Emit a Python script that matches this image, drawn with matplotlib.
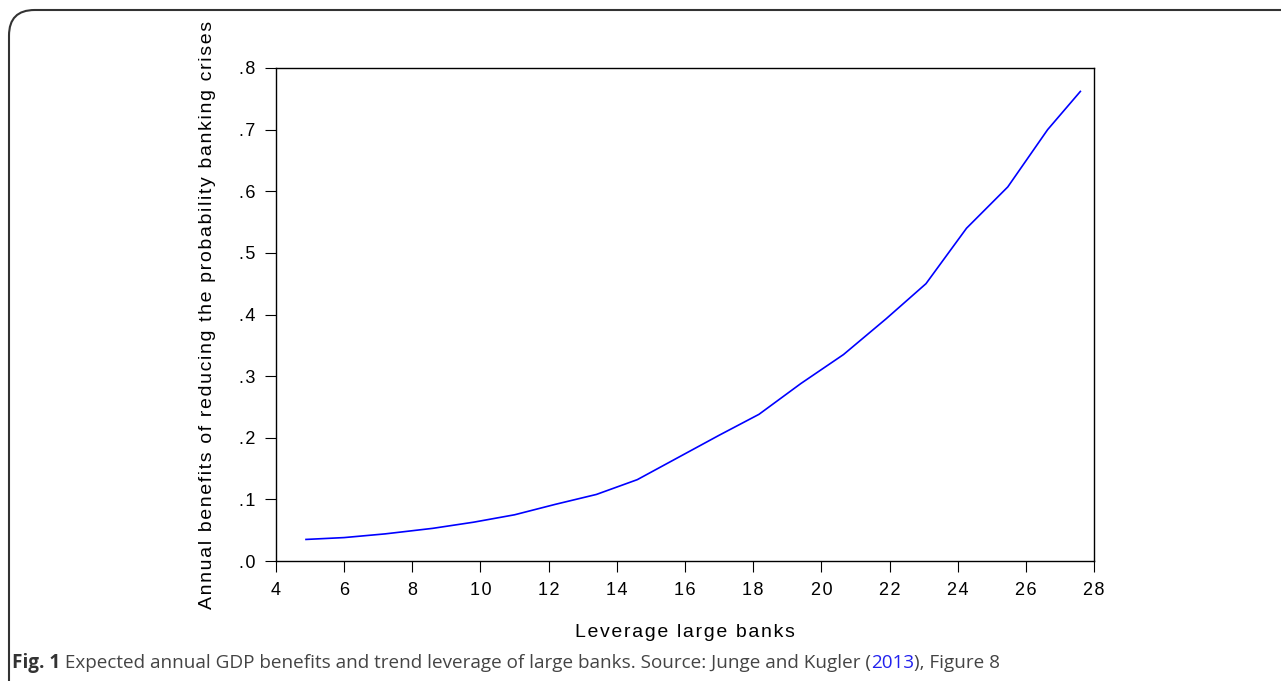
import matplotlib
matplotlib.use("Agg")
import matplotlib.pyplot as plt
from matplotlib.patches import FancyBboxPatch

# values
leverage = [4.88, 6.0, 7.2, 8.6, 9.8, 11.0, 12.2, 13.4, 14.6, 15.8, 17.0, 18.17,
            19.4, 20.65, 21.9, 23.07, 24.26, 25.47, 26.64, 27.6]
benefits = [0.035, 0.038, 0.044, 0.053, 0.063, 0.075, 0.092, 0.108, 0.132, 0.168,
            0.204, 0.238, 0.288, 0.335, 0.393, 0.450, 0.540, 0.607, 0.700, 0.762]
xticks = [4, 6, 8, 10, 12, 14, 16, 18, 20, 22, 24, 26, 28]
yticks = [0.0, 0.1, 0.2, 0.3, 0.4, 0.5, 0.6, 0.7, 0.8]
ytick_labels = [".0", ".1", ".2", ".3", ".4", ".5", ".6", ".7", ".8"]
ylabel = "Annual benefits of reducing the probability banking crises"
xlabel = "Leverage large banks"
caption_bold = "Fig. 1"
caption_text = " Expected annual GDP benefits and trend leverage of large banks. Source: Junge and Kugler ("
caption_link = "2013"
caption_end = "), Figure 8"

def spaced(s, sep="\u200a"):
    return sep.join(s)

plt.rcParams['font.family'] = ['Liberation Sans', 'DejaVu Sans']

fig = plt.figure(figsize=(12.81, 6.81), dpi=100)
W, H = 1281, 681
ax = fig.add_axes([276 / W, 1 - 561 / H, (1094 - 276) / W, (561 - 68) / H])

ax.plot(leverage, benefits, color="#0000ff", lw=1.2)
ax.set_xlim(4, 28)
ax.set_ylim(0, 0.8)
ax.set_xticks(xticks)
ax.set_xticklabels([spaced(str(t)) for t in xticks])
ax.set_yticks(yticks)
ax.set_yticklabels([spaced(t) for t in ytick_labels])
ax.tick_params(direction="out", length=8, width=0.8, labelsize=13,
               colors="black")
ax.tick_params(axis="x", pad=7)
ax.tick_params(axis="y", pad=7)
for s in ax.spines.values():
    s.set_linewidth(1.0)

ax.set_ylabel(spaced(ylabel), fontsize=14)
ax.yaxis.set_label_coords(-0.073, 0.5)
ax.set_xlabel(spaced(xlabel), fontsize=14)
ax.xaxis.set_label_coords(0.5, -0.128)

# rounded frame of the figure panel
frame = FancyBboxPatch((9 / W, -0.2), 1.5, 1.2 - 10 / H,
                       boxstyle="round,pad=0,rounding_size=0.02",
                       transform=fig.transFigure, fill=False,
                       edgecolor="#333333", lw=1.5, mutation_aspect=W / H)
fig.patches.append(frame)

# caption, drawn in pieces
cy = 1 - 663 / H
fs = 13.6
t1 = fig.text(12 / W, cy, caption_bold, fontsize=fs, fontweight="bold",
              family="Open Sans", color="#333333", va="center")
fig.canvas.draw()
r = fig.canvas.get_renderer()
x = t1.get_window_extent(r).x1 / W
t2 = fig.text(x, cy, caption_text, fontsize=fs, family="Open Sans",
              color="#444444", va="center")
x = t2.get_window_extent(r).x1 / W
t3 = fig.text(x, cy, caption_link, fontsize=fs, family="Open Sans",
              color="#2222ee", va="center")
x = t3.get_window_extent(r).x1 / W
fig.text(x, cy, caption_end, fontsize=fs, family="Open Sans",
         color="#444444", va="center")

fig.savefig("out.png", dpi=100)
